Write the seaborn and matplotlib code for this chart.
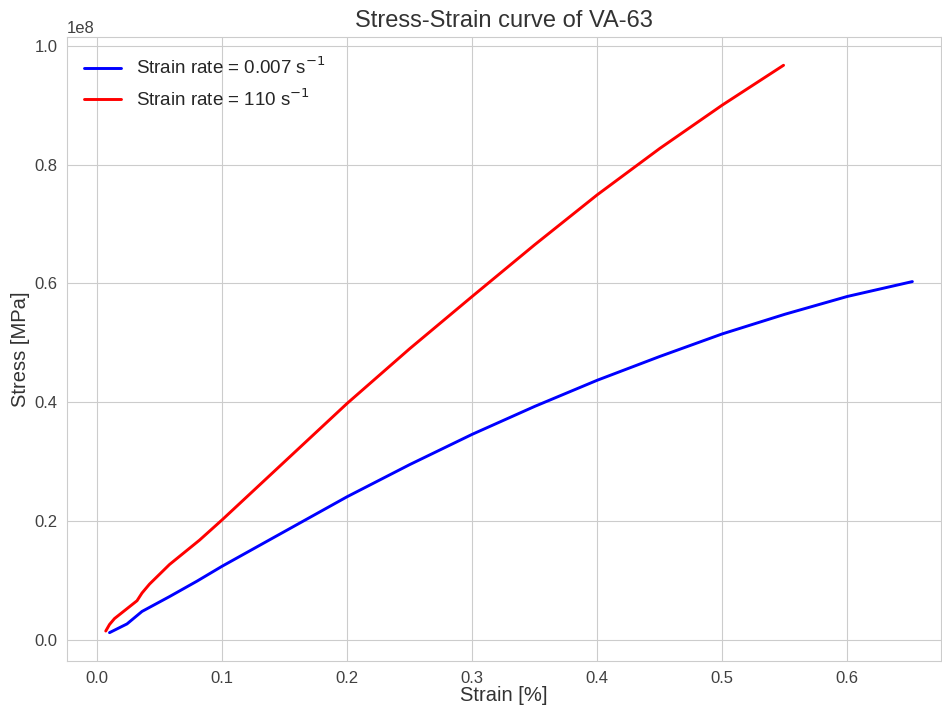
import numpy as np
import pandas as pd
import matplotlib
matplotlib.use("Agg")
import matplotlib.pyplot as plt
import seaborn as sns

# Quasi-static test (strain rate 0.007 1/s)
strain_slow = [0.010, 0.024, 0.036, 0.058, 0.080, 0.100, 0.141, 0.200, 0.250,
               0.300, 0.350, 0.400, 0.450, 0.500, 0.550, 0.600, 0.652]
stress_slow = [0.0123e8, 0.027e8, 0.048e8, 0.073e8, 0.099e8, 0.124e8, 0.172e8,
               0.241e8, 0.295e8, 0.346e8, 0.393e8, 0.437e8, 0.477e8, 0.515e8,
               0.548e8, 0.578e8, 0.603e8]

# Dynamic test (strain rate 110 1/s)
strain_fast = [0.007, 0.010, 0.014, 0.020, 0.026, 0.032, 0.036, 0.042, 0.058,
               0.082, 0.100, 0.150, 0.200, 0.250, 0.300, 0.350, 0.400, 0.450,
               0.500, 0.549]
stress_fast = [0.015e8, 0.026e8, 0.036e8, 0.046e8, 0.056e8, 0.066e8, 0.079e8,
               0.094e8, 0.127e8, 0.168e8, 0.202e8, 0.300e8, 0.398e8, 0.490e8,
               0.578e8, 0.665e8, 0.749e8, 0.827e8, 0.900e8, 0.967e8]

series_labels = ["Strain rate = 0.007 s$^{-1}$", "Strain rate = 110 s$^{-1}$"]
series_colors = ["blue", "red"]

df = pd.concat([
    pd.DataFrame({"strain": strain_slow, "stress": stress_slow, "series": series_labels[0]}),
    pd.DataFrame({"strain": strain_fast, "stress": stress_fast, "series": series_labels[1]}),
], ignore_index=True)

sns.set_style("whitegrid")
plt.rcParams["font.family"] = ["Liberation Sans", "DejaVu Sans"]

fig = plt.figure(figsize=(9.42, 7.09), dpi=100)
ax = fig.add_axes([0.0711, 0.0677, 0.928, 0.8805])

sns.lineplot(data=df, x="strain", y="stress", hue="series", sort=False,
             estimator=None, palette=dict(zip(series_labels, series_colors)),
             linewidth=2.1, ax=ax)

ax.set_xlim(-0.024, 0.675)
ax.set_ylim(-0.0354e8, 1.015e8)
ax.set_xticks(np.arange(0, 0.61, 0.1))
ax.set_yticks(np.arange(0, 1.01e8, 0.2e8))
ax.tick_params(labelsize=12, colors=".25")
ax.yaxis.get_offset_text().set_fontsize(12)

ax.set_title("Stress-Strain curve of VA-63", fontsize=17, color=".2", pad=7)
ax.set_xlabel("Strain [%]", fontsize=14.5, color=".2", labelpad=0)
ax.set_ylabel("Stress [MPa]", fontsize=14.5, color=".2", labelpad=3)

leg = ax.legend(loc="upper left", bbox_to_anchor=(0, 0.995), fontsize=13.5,
                frameon=False, borderaxespad=0.5, labelspacing=0.55)
for line in leg.get_lines():
    line.set_linewidth(2.1)

fig.savefig("out.png", dpi=100)
